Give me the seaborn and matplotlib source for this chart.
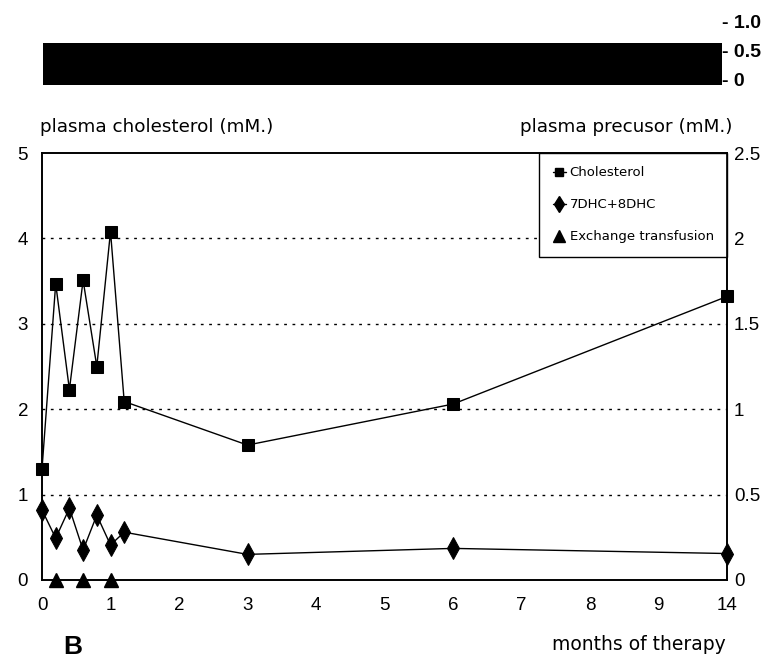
import numpy as np
import pandas as pd
import matplotlib
matplotlib.use("Agg")
import matplotlib.pyplot as plt
import seaborn as sns
from matplotlib.lines import Line2D

# data (x given as axis position, last tick is 14 months)
x_pos = [0, 0.2, 0.4, 0.6, 0.8, 1.0, 1.2, 3, 6, 10]
cholesterol = [1.30, 3.47, 2.23, 3.51, 2.50, 4.08, 2.09, 1.58, 2.06, 3.32]
precursor = [0.41, 0.245, 0.42, 0.175, 0.38, 0.205, 0.28, 0.15, 0.185, 0.155]  # right axis
transfusion_x = [0.2, 0.6, 1.0]
transfusion_y = [0, 0, 0]
x_ticks = list(range(11))
x_labels = ["0", "1", "2", "3", "4", "5", "6", "7", "8", "9", "14"]
left_ticks = [0, 1, 2, 3, 4, 5]
right_ticks = [0, 0.5, 1, 1.5, 2, 2.5]
right_labels = ["0", "0.5", "1", "1.5", "2", "2.5"]
strip_x = [0, 10]
strip_val = [0.64, 0.64]
strip_ticks = [0, 0.5, 1.0]
strip_labels = ["- 0", "- 0.5", "- 1.0"]

sns.set_style("white")
plt.rcParams['font.family'] = ['Liberation Sans', 'DejaVu Sans']
plt.rcParams['text.color'] = 'black'
plt.rcParams['xtick.color'] = 'black'
plt.rcParams['ytick.color'] = 'black'

fig = plt.figure(figsize=(7.72, 6.6), dpi=100)
ax = fig.add_axes([42/772, 1-580/660, 685/772, 427/660])
ax2 = ax.twinx()

df = pd.DataFrame({"x": x_pos, "chol": cholesterol, "prec": precursor})
sns.lineplot(data=df, x="x", y="chol", ax=ax, color="black", lw=1,
             marker="s", markersize=8, markeredgecolor="black", clip_on=False)
sns.lineplot(data=df, x="x", y="prec", ax=ax2, color="black", lw=1,
             marker="d", markersize=11, markeredgecolor="black", clip_on=False)
ax.plot(transfusion_x, transfusion_y, ls="none", marker="^", markersize=10,
        color="black", clip_on=False, zorder=5)

ax.set_xlim(0, 10)
ax.set_ylim(0, 5)
ax2.set_ylim(0, 2.5)
ax.set_xticks(x_ticks)
ax.set_xticklabels(x_labels)
ax.set_yticks(left_ticks)
ax2.set_yticks(right_ticks)
ax2.set_yticklabels(right_labels)
for a in (ax, ax2):
    a.set_xlabel("")
    a.set_ylabel("")
    a.tick_params(length=0, labelsize=13.5, labelcolor="black")
    for s in a.spines.values():
        s.set_color("black")
        s.set_linewidth(1.2)
ax.tick_params(axis="x", pad=12)
ax.tick_params(axis="y", pad=10)
ax2.tick_params(axis="y", pad=5)
for y in [1, 2, 3, 4]:
    ax.axhline(y, color="black", lw=1, ls=(0, (2, 4)), zorder=0)

handles = [Line2D([], [], color="black", lw=1, marker="s", markersize=6),
           Line2D([], [], color="black", lw=1, marker="d", markersize=8),
           Line2D([], [], color="black", lw=0, marker="^", markersize=8)]
leg = ax.legend(handles, ["Cholesterol", "7DHC+8DHC", "Exchange transfusion"],
                loc="upper right", bbox_to_anchor=(1, 1), borderaxespad=0,
                prop={"family": "DejaVu Sans", "size": 9.5},
                handlelength=1, handletextpad=0.3, labelspacing=1.45,
                borderpad=1.0, fancybox=False, framealpha=1)
leg.get_frame().set_edgecolor("black")
leg.get_frame().set_linewidth(1)
for t in leg.get_texts():
    t.set_color("black")

# black strip on top
sax = fig.add_axes([43/772, 1-85/660, 679/772, 66/660])
sax.fill_between(strip_x, -0.09, strip_val, color="black", lw=0)
sax.set_xlim(0, 10)
sax.set_ylim(-0.09, 1.05)
sax.set_xticks([])
sax.yaxis.tick_right()
sax.set_yticks(strip_ticks)
sax.set_yticklabels(strip_labels, fontweight="bold")
sax.tick_params(length=0, labelsize=14, pad=0, labelcolor="black")
for s in sax.spines.values():
    s.set_visible(False)

fig.text(40/772, 1-127/660, "plasma cholesterol (mM.)", fontsize=13.2,
         family="DejaVu Sans", va="center")
fig.text(733/772, 1-127/660, "plasma precusor (mM.)", fontsize=13.2,
         family="DejaVu Sans", va="center", ha="right")
fig.text(726/772, 1-645/660, "months of therapy", fontsize=13.5,
         family="DejaVu Sans", va="center", ha="right")
fig.text(63/772, 1-647/660, "B", fontsize=19, fontweight="bold", va="center")

fig.savefig("out.png", dpi=100)
